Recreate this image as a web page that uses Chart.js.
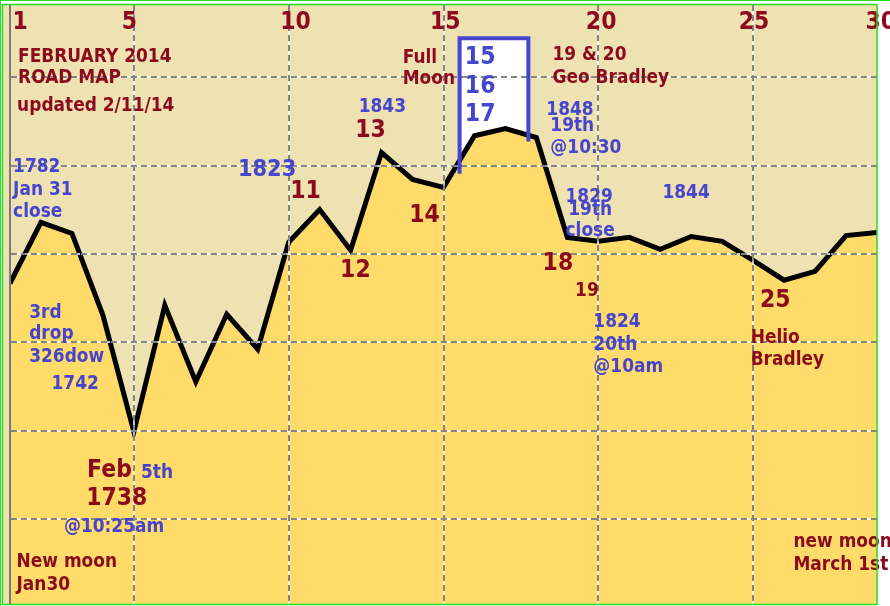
<!DOCTYPE html>
<html>
<head>
<meta charset="utf-8">
<script src="https://cdn.jsdelivr.net/npm/chart.js@4.4.1/dist/chart.umd.min.js"></script>
<style>
html,body{margin:0;padding:0;background:#fff;overflow:hidden}
#wrap{width:890px;height:606px;position:relative}
</style>
</head>
<body>
<div id="wrap"><canvas id="c" width="890" height="606"></canvas></div>
<script>
// ---- data ----
const days = [1,2,3,4,5,6,7,8,9,10,11,12,13,14,15,16,17,18,19,20,21,22,23,24,25,26,27,28,29];
const closes = [1773.4,1787.2,1784.7,1766.2,1739.8,1768.4,1751.1,1766.4,1758.5,1782.7,
                1790.1,1780.9,1803.0,1796.9,1795.1,1806.8,1808.4,1806.4,1783.8,1782.9,
                1783.8,1781.1,1784.0,1782.9,1778.6,1774.1,1776.1,1784.2,1784.9];
const dayTicks = [1,5,10,15,20,25,30];
const levelTicks = [1720,1740,1760,1780,1800,1820];

// ---- styling / layout ----
const RED = '#8B0A1C';
const BLUE = '#4545CE';
const BEIGE = '#EEE2B3';
const GOLD = '#FFDB6A';
const GREEN = '#22E022';
const GRID = '#858585';
const FONT = '"DejaVu Sans", "Liberation Sans", sans-serif';
const STRETCH = 1.1;
const tickLabelShift = [2.5,-12,-8.5,-13.5,-12.5,-14.5,-42.5]; // px offset of each top label
const tickLabelLevel = 1831.0;

// annotations anchored in data units (day, level); baseline at level
const notes = [
  ['FEBRUARY 2014',1.26,1823.5,RED,17],
  ['ROAD MAP',1.26,1818.8,RED,17],
  ['updated 2/11/14',1.23,1812.5,RED,17],
  ['Full',13.68,1823.3,RED,17],
  ['Moon',13.68,1818.6,RED,17],
  ['19 & 20',18.52,1824.0,RED,17],
  ['Geo Bradley',18.52,1818.8,RED,17],
  ['11',10.05,1792.8,RED,22],
  ['12',11.66,1774.8,RED,22],
  ['13',12.15,1806.6,RED,22],
  ['14',13.89,1787.2,RED,22],
  ['18',18.20,1776.3,RED,22],
  ['19',19.25,1770.5,RED,17],
  ['25',25.22,1768.0,RED,22],
  ['Feb',3.49,1729.6,RED,22],
  ['1738',3.46,1723.1,RED,22],
  ['Helio',24.92,1759.9,RED,17],
  ['Bradley',24.92,1754.9,RED,17],
  ['new moon',26.30,1713.6,RED,17],
  ['March 1st',26.30,1708.4,RED,17],
  ['New moon',1.21,1709.1,RED,17],
  ['Jan30',1.21,1703.9,RED,17],
  ['1782',1.10,1798.5,BLUE,17],
  ['Jan 31',1.10,1793.5,BLUE,17],
  ['close',1.10,1788.5,BLUE,17],
  ['1823',8.36,1797.6,BLUE,21],
  ['1843',12.26,1812.2,BLUE,17],
  ['15',15.69,1823.1,BLUE,22],
  ['16',15.69,1816.5,BLUE,22],
  ['17',15.69,1810.2,BLUE,22],
  ['1848',18.32,1811.6,BLUE,17],
  ['19th',18.45,1807.9,BLUE,17],
  ['@10:30',18.45,1802.8,BLUE,17],
  ['1829',18.94,1791.7,BLUE,17],
  ['19th',19.03,1788.8,BLUE,17],
  ['close',18.94,1784.0,BLUE,17],
  ['1844',22.07,1792.6,BLUE,17],
  ['3rd',1.62,1765.5,BLUE,17],
  ['drop',1.62,1760.8,BLUE,17],
  ['326dow',1.62,1755.6,BLUE,17],
  ['1742',2.34,1749.5,BLUE,17],
  ['5th',5.23,1729.4,BLUE,17],
  ['@10:25am',2.74,1717.2,BLUE,17],
  ['1824',19.84,1763.5,BLUE,17],
  ['20th',19.84,1758.3,BLUE,17],
  ['@10am',19.84,1753.3,BLUE,17]
];
const box = {fromDay:15.52, toDay:17.74, top:1828.9, leftBottom:1798.2, rightBottom:1805.5, whiteBottom:1792};

function txt(ctx, s, x, y, color, size, align){
  ctx.save();
  ctx.translate(x, y);
  ctx.scale(1, STRETCH);
  ctx.font = 'bold ' + size + 'px ' + FONT;
  ctx.fillStyle = color;
  ctx.textAlign = align || 'left';
  ctx.textBaseline = 'alphabetic';
  ctx.fillText(s, 0, 0);
  ctx.restore();
}

const deco = {
  id: 'deco',
  beforeDraw(chart){
    const {ctx, chartArea: a} = chart;
    ctx.save();
    ctx.fillStyle = '#fff';
    ctx.fillRect(0, 0, chart.width, chart.height);
    ctx.fillStyle = BEIGE;
    ctx.fillRect(a.left - 7, a.top, a.right - a.left + 7, a.bottom - a.top);
    ctx.restore();
  },
  beforeDatasetsDraw(chart){
    const {ctx, scales: {x, y}} = chart;
    const l = x.getPixelForValue(box.fromDay), r = x.getPixelForValue(box.toDay);
    const t = y.getPixelForValue(box.top), b = y.getPixelForValue(box.whiteBottom);
    ctx.save();
    ctx.fillStyle = '#fff';
    ctx.fillRect(l, t, r - l, b - t);
    ctx.restore();
  },
  afterDatasetsDraw(chart){
    // light gaps between grid dashes (grid layer is drawn right after this)
    const {ctx, chartArea: a, scales: {x, y}} = chart;
    ctx.save();
    ctx.strokeStyle = 'rgba(255,255,255,0.75)';
    ctx.lineWidth = 2;
    ctx.setLineDash([4, 6]);
    ctx.lineDashOffset = -6;
    ctx.beginPath();
    levelTicks.forEach(v => { const py = Math.round(y.getPixelForValue(v)); ctx.moveTo(a.left, py); ctx.lineTo(a.right, py); });
    ctx.stroke();
    ctx.beginPath();
    dayTicks.filter(v => v > 1 && v <= 29).forEach(v => { const px = Math.round(x.getPixelForValue(v)); ctx.moveTo(px, a.top); ctx.lineTo(px, a.bottom); });
    ctx.stroke();
    ctx.restore();
  },
  afterDraw(chart){
    const {ctx, chartArea: a, scales: {x, y}} = chart;
    // box outline
    const l = x.getPixelForValue(box.fromDay), r = x.getPixelForValue(box.toDay);
    ctx.save();
    ctx.strokeStyle = BLUE;
    ctx.lineWidth = 4;
    ctx.lineJoin = 'miter';
    ctx.beginPath();
    ctx.moveTo(l, y.getPixelForValue(box.leftBottom));
    ctx.lineTo(l, y.getPixelForValue(box.top));
    ctx.lineTo(r, y.getPixelForValue(box.top));
    ctx.lineTo(r, y.getPixelForValue(box.rightBottom));
    ctx.stroke();
    ctx.restore();
    // top day labels
    dayTicks.forEach((d, i) => {
      txt(ctx, String(d), x.getPixelForValue(d) + tickLabelShift[i], y.getPixelForValue(tickLabelLevel), RED, 22);
    });
    // notes
    notes.forEach(n => txt(ctx, n[0], x.getPixelForValue(n[1]), y.getPixelForValue(n[2]), n[3], n[4]));
    // green frame
    ctx.save();
    ctx.strokeStyle = GREEN;
    ctx.lineWidth = 1;
    ctx.beginPath();
    ctx.moveTo(0, 0.5); ctx.lineTo(chart.width, 0.5);
    ctx.moveTo(0.5, 0); ctx.lineTo(0.5, chart.height);
    ctx.stroke();
    ctx.lineWidth = 1.5;
    ctx.strokeRect(a.left - 7.5, a.top - 0.5, a.right - a.left + 7.5, a.bottom - a.top + 1);
    ctx.restore();
  }
};

new Chart(document.getElementById('c'), {
  type: 'line',
  data: {
    datasets: [{
      data: days.map((d, i) => ({x: d, y: closes[i]})),
      borderColor: '#000',
      borderWidth: 5,
      borderJoinStyle: 'miter',
      backgroundColor: GOLD,
      fill: 'start',
      pointRadius: 0,
      tension: 0
    }]
  },
  options: {
    responsive: false,
    animation: false,
    devicePixelRatio: 1,
    layout: {padding: {left: 10, right: 13, top: 5, bottom: 2}},
    plugins: {legend: {display: false}, tooltip: {enabled: false}},
    scales: {
      x: {
        type: 'linear', min: 1, max: 29,
        afterBuildTicks: s => { s.ticks = dayTicks.filter(v => v <= 29).map(v => ({value: v})); },
        ticks: {display: false},
        grid: {color: GRID, lineWidth: 2, drawTicks: false, z: 1},
        border: {display: false, dash: [6, 4]}
      },
      y: {
        type: 'linear', min: 1700.8, max: 1836.4,
        afterBuildTicks: s => { s.ticks = levelTicks.map(v => ({value: v})); },
        ticks: {display: false},
        grid: {color: GRID, lineWidth: 2, drawTicks: false, z: 1},
        border: {display: true, color: '#7a7a7a', width: 2, dash: [6, 4], z: 2}
      }
    }
  },
  plugins: [deco]
});
</script>
</body>
</html>
